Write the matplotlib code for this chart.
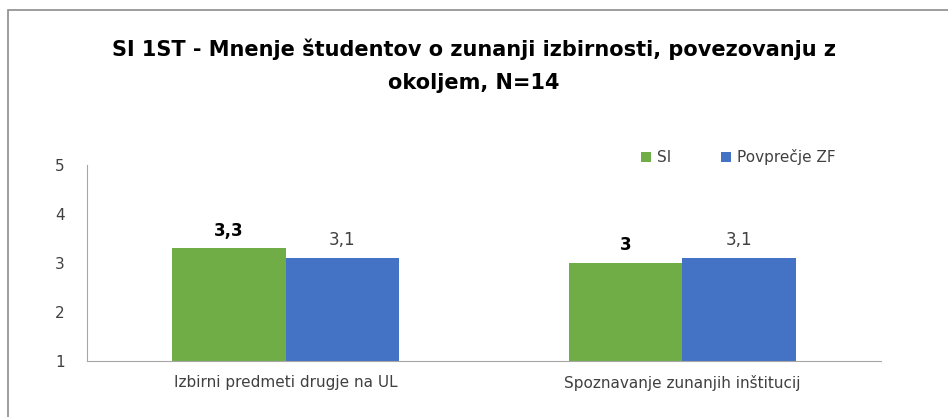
import matplotlib.pyplot as plt
import matplotlib.patches as patches
import numpy as np

categories = ["Izbirni predmeti drugje na UL", "Spoznavanje zunanjih inštitucij"]
si_values = [3.3, 3.0]
zf_values = [3.1, 3.1]
si_labels = ["3,3", "3"]
zf_labels = ["3,1", "3,1"]

plt.rcParams['font.family'] = ['DejaVu Sans']

fig = plt.figure(figsize=(9.48, 4.17), dpi=100)
ax = fig.add_axes([0.0918, 0.134, 0.8375, 0.470])

# outer chart border (cut off on right/bottom like the screenshot)
fig.patches.append(patches.Rectangle((8 / 948, -0.1), 1.2, 1 - 10 / 417 + 0.1,
                                     transform=fig.transFigure, fill=False,
                                     edgecolor="#8c8c8c", linewidth=1.2))

x = np.arange(len(categories))
w = 0.287
ax.bar(x - w / 2, [v - 1 for v in si_values], w, bottom=1, color="#70AD47", label="SI")
ax.bar(x + w / 2, [v - 1 for v in zf_values], w, bottom=1, color="#4472C4", label="Povprečje ZF")

for i in range(len(categories)):
    ax.text(x[i] - w / 2, si_values[i] + 0.18, si_labels[i], ha="center", va="bottom",
            fontsize=12, fontweight="bold", color="black")
    ax.text(x[i] + w / 2, zf_values[i] + 0.18, zf_labels[i], ha="center", va="bottom",
            fontsize=12, color="#404040")

ax.set_xlim(-0.5, 1.5)
ax.set_ylim(1, 5)
ax.set_yticks([1, 2, 3, 4, 5])
ax.set_xticks(x)
ax.set_xticklabels(categories)
ax.tick_params(axis="both", length=0, labelsize=11, colors="#404040")
ax.tick_params(axis="y", pad=16)
ax.tick_params(axis="x", pad=10)
for s in ["top", "right"]:
    ax.spines[s].set_visible(False)
ax.spines["left"].set_color("#a6a6a6")
ax.spines["bottom"].set_color("#a6a6a6")

fig.text(0.5, 1 - 65.5 / 417, "SI 1ST - Mnenje študentov o zunanji izbirnosti, povezovanju z\nokoljem, N=14",
         ha="center", va="center", fontsize=15, fontweight="bold", color="black",
         linespacing=1.8)

ax.legend(loc="center left", bbox_to_anchor=(0.68, 1.04), ncol=2, frameon=False,
          fontsize=11, handlelength=0.7, handleheight=0.7, columnspacing=3.2,
          handletextpad=0.4, labelcolor="#404040")

plt.savefig("out.png")
plt.close()
